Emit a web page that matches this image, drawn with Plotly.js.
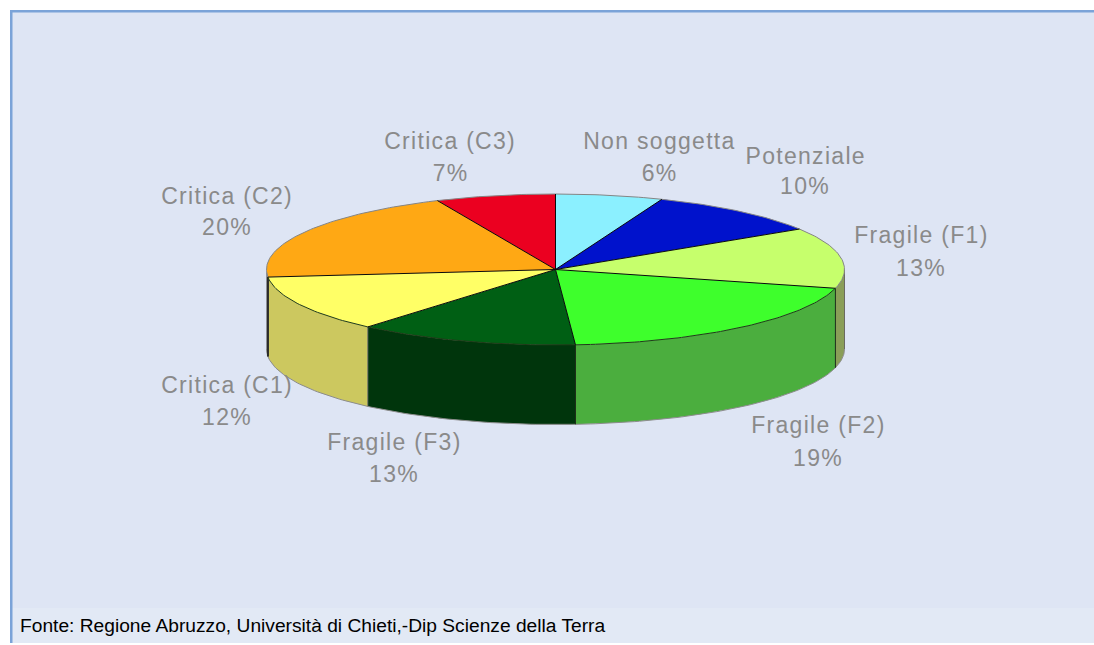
<!DOCTYPE html>
<html>
<head>
<meta charset="utf-8">
<script src="https://cdn.plot.ly/plotly-3.0.1.min.js"></script>
<style>
html,body{margin:0;padding:0;background:#fff;overflow:hidden}
#chart{width:1094px;height:645px}
</style>
</head>
<body>
<div id="chart"></div>
<script>
// ---- data ----
const categories   = ["Non soggetta","Potenziale","Fragile (F1)","Fragile (F2)","Fragile (F3)","Critica (C1)","Critica (C2)","Critica (C3)"];
const printedPct   = [6,10,13,19,13,12,20,7];               // the percentages as printed
const sliceShares  = [6,10,13,19.9,12.35,12.15,19.9,6.7];   // the share each wedge really occupies in the drawing
// ---- styles ----
const topColors  = ["#8BF0FF","#0012CC","#C6FF6C","#3EFF2C","#005F14","#FFFF66","#FFA814","#EB0020"];
const wallColors = ["#6FC0CC","#000E99","#8A9E58","#4BAE3E","#00350C","#CCC85F","#444444","#BB0018"];
// ---- geometry ----
const CX=555.5, CY=269.5, RX=289, RY=75.5, DEPTH=79.5;
const labelCentres = [[659,141,173],[805,156,186],[921,235,268],[818,425,458],[394,442,474],[227,385,417],[227,196,227],[450,141,173]];

const pt=(deg,dy=0)=>{const a=deg*Math.PI/180;return [CX+RX*Math.sin(a),CY-RY*Math.cos(a)+dy];};
const arc=(a,b,dy=0)=>{const n=Math.max(2,Math.ceil(Math.abs(b-a)));const o=[];for(let i=0;i<=n;i++)o.push(pt(a+(b-a)*i/n,dy));return o;};
const total=sliceShares.reduce((s,v)=>s+v,0);
let cum=0;
const bounds=sliceShares.map(v=>{const s=cum/total*360;cum+=v;return [s,cum/total*360];});

const traces=[];
const poly=(pts,fill,line,width,name)=>traces.push({type:"scatter",mode:"lines",x:pts.map(p=>p[0]),y:pts.map(p=>p[1]),
  fill:fill?"toself":"none",fillcolor:fill||undefined,line:{color:line||"rgba(0,0,0,0)",width:width||0},hoverinfo:"skip",name:name,showlegend:false});

// side walls (front half only)
bounds.forEach(([s,e],i)=>{
  const a=Math.max(s,90), b=Math.min(e,270);
  if(b<=a) return;
  const outline=arc(a,b).concat(arc(b,a,DEPTH));
  outline.push(outline[0]);
  poly(outline,wallColors[i],null,0,categories[i]+" wall");
  poly(arc(a,b,DEPTH),null,"#8c8c8c",1,categories[i]+" base");
  const edge=i===6?"#2a2a2a":(i===4||i===3?"#1c2c18":"#6a6a60");
  poly([pt(a),pt(a,DEPTH)],null,edge,i===6?2:1,categories[i]+" edge");
});
// wedges on top
bounds.forEach(([s,e],i)=>{
  const p=[[CX,CY]].concat(arc(s,e));p.push([CX,CY]);
  poly(p,topColors[i],null,0,categories[i]);
});
// rim
bounds.forEach(([s,e],i)=>{
  const front=(s+e)/2>90&&(s+e)/2<270;
  poly(arc(s,e),null,front?"#1f3a18":"#858585",1,categories[i]+" rim");
});
// spokes
bounds.forEach(([s],i)=>{poly([[CX,CY],pt(s)],null,"#0a0a0a",1,categories[i]+" spoke");});

const annotations=[];
categories.forEach((c,i)=>{
  const [x,y1,y2]=labelCentres[i];
  [[c,y1],[printedPct[i]+"%",y2]].forEach(([t,y])=>annotations.push({
    x:x,y:y,xref:"x",yref:"y",text:t,showarrow:false,xanchor:"center",yanchor:"middle",
    font:{family:"Liberation Sans",size:23,color:"#8a8a8a"},captureevents:false}));
});
annotations.push({x:18,y:625,xref:"x",yref:"y",xanchor:"left",yanchor:"middle",showarrow:false,
  text:"Fonte: Regione Abruzzo, Università di Chieti,-Dip Scienze della Terra",
  font:{family:"Liberation Sans",size:19.2,color:"#000000"}});

const layout={
  width:1094,height:645,margin:{l:0,r:0,t:0,b:0},paper_bgcolor:"#ffffff",plot_bgcolor:"rgba(0,0,0,0)",
  showlegend:false,hovermode:false,dragmode:false,
  xaxis:{range:[0,1094],visible:false,fixedrange:true},
  yaxis:{range:[645,0],visible:false,fixedrange:true},
  shapes:[
    {type:"rect",layer:"below",xref:"x",yref:"y",x0:10,x1:1094,y0:10,y1:608,fillcolor:"#DEE5F4",line:{width:0}},
    {type:"rect",layer:"below",xref:"x",yref:"y",x0:10,x1:1094,y0:608,y1:643,fillcolor:"#E2E9F5",line:{width:0}},
    {type:"rect",layer:"below",xref:"x",yref:"y",x0:10,x1:1094,y0:10,y1:12.5,fillcolor:"#7BA3D8",line:{width:0}},
    {type:"rect",layer:"below",xref:"x",yref:"y",x0:10,x1:12.5,y0:10,y1:643,fillcolor:"#7BA3D8",line:{width:0}}
  ],
  annotations:annotations
};
Plotly.newPlot("chart",traces,layout,{displayModeBar:false,staticPlot:true}).then(()=>{
  document.querySelectorAll("#chart .annotation text").forEach(t=>{
    if(!t.textContent.startsWith("Fonte")) t.style.letterSpacing="1.3px";
  });
});
</script>
</body>
</html>
